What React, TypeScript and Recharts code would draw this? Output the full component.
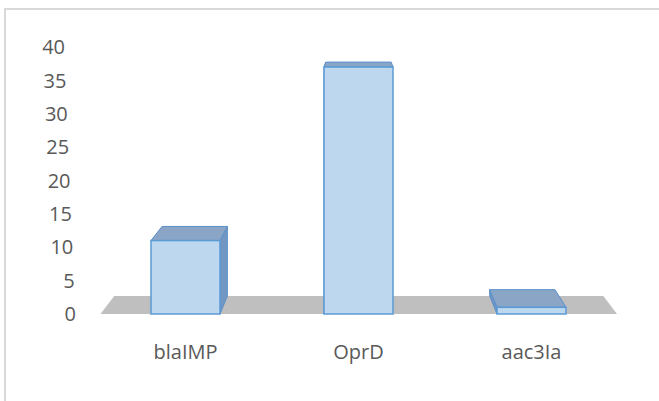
import { BarChart, Bar, XAxis, YAxis, ReferenceLine } from "recharts";

const categories = ["blaIMP", "OprD", "aac3Ia"];
const values = [11, 37, 1];
const yTicks = [0, 5, 10, 15, 20, 25, 30, 35, 40];

const data = categories.map((name, i) => ({ name, value: values[i] }));

// fake 3D: every back corner is pulled toward one vanishing point
const VX = 359;
const VY = -26;
const K = 0.053;

const back = (px: number, py: number): [number, number] => [
  px + K * (VX - px),
  py + K * (VY - py),
];

const pts = (list: [number, number][]) => list.map((p) => p.join(",")).join(" ");

function Bar3D(props: any) {
  const { x, y, width, height } = props;
  const x2 = x + width;
  const y2 = y + height;
  const tl = back(x, y);
  const tr = back(x2, y);
  const bl = back(x, y2);
  const br = back(x2, y2);
  const side =
    x2 < VX
      ? pts([[x2, y], tr, br, [x2, y2]])
      : pts([[x, y], tl, bl, [x, y2]]);
  return (
    <g>
      <polygon points={side} fill="#7396c2" stroke="#5b8fcb" strokeWidth={1} />
      <polygon
        points={pts([[x, y], tl, tr, [x2, y]])}
        fill="#8aa5c6"
        stroke="#5b8fcb"
        strokeWidth={1}
      />
      <rect
        x={x}
        y={y}
        width={width}
        height={height}
        fill="#bdd7ee"
        stroke="#5b9bd5"
        strokeWidth={1.5}
      />
    </g>
  );
}

function Floor(props: any) {
  const { x1, x2, y1 } = props;
  const a = x1 + 1.5;
  const b = x2 - 1;
  return (
    <polygon
      points={pts([[a, y1], back(a, y1), back(b, y1), [b, y1]])}
      fill="#bfbfbf"
    />
  );
}

function YTick(props: any) {
  const { x, y, payload } = props;
  // the value axis leans a little, as on the back wall
  const shift = payload.value * 0.275;
  return (
    <text
      x={x - shift}
      y={y}
      dy="0.36em"
      textAnchor="end"
      fill="#595959"
      fontSize={20}
      fontFamily="'Open Sans', sans-serif"
    >
      {payload.value}
    </text>
  );
}

export default function App() {
  return (
    <div
      style={{
        position: "absolute",
        left: 0,
        top: 0,
        width: 659,
        height: 401,
        overflow: "hidden",
        background: "#fff",
      }}
    >
      <div
        style={{
          position: "absolute",
          left: 4,
          top: 8,
          width: 720,
          height: 500,
          border: "2px solid #d9d9d9",
        }}
      />
      <div style={{ position: "absolute", left: 0, top: 0 }}>
        <BarChart
          width={659}
          height={401}
          data={data}
          margin={{ top: 47, right: 41, bottom: 57, left: 0 }}
          barSize={69}
        >
          <XAxis
            dataKey="name"
            height={30}
            axisLine={false}
            tickLine={false}
            tickSize={0}
            tickMargin={31}
            tick={{
              fill: "#595959",
              fontSize: 20,
              fontFamily: "'Open Sans', sans-serif",
            }}
          />
          <YAxis
            domain={[0, 40]}
            ticks={yTicks}
            width={99}
            axisLine={false}
            tickLine={false}
            tickSize={0}
            tickMargin={23}
            tick={<YTick />}
          />
          <ReferenceLine y={0} shape={<Floor />} zIndex={-10} />
          <Bar dataKey="value" shape={<Bar3D />} isAnimationActive={false} />
        </BarChart>
      </div>
    </div>
  );
}
